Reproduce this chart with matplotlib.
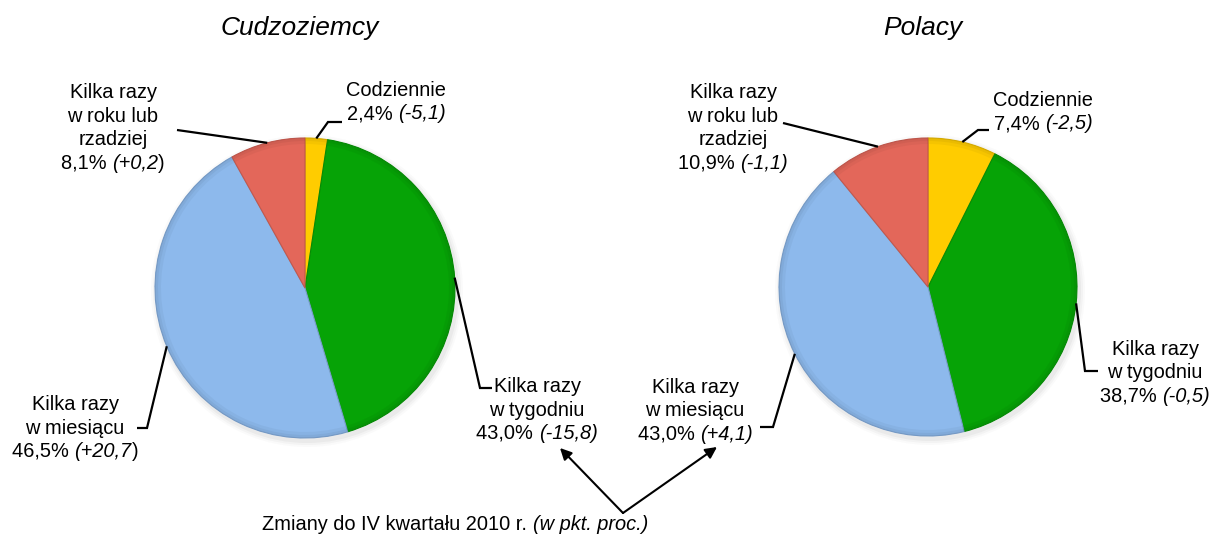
import numpy as np
import matplotlib
matplotlib.use('Agg')
import matplotlib.pyplot as plt
from matplotlib.offsetbox import TextArea, VPacker, HPacker, AnnotationBbox
from matplotlib.colors import to_rgb

plt.rcParams['font.family'] = ['Liberation Sans', 'DejaVu Sans']

# --- dane ---
categories = ['Codziennie', 'Kilka razy\nw tygodniu', 'Kilka razy\nw miesiącu',
              'Kilka razy\nw roku lub\nrzadziej']
cudz_share = [2.4, 43.0, 46.5, 8.1]
cudz_change = [-5.1, -15.8, 20.7, 0.2]
pol_share = [7.4, 38.7, 43.0, 10.9]
pol_change = [-2.5, -0.5, 4.1, -1.1]
titles = ['Cudzoziemcy', 'Polacy']
footnote = 'Zmiany do IV kwartału 2010 r. '
footnote_it = '(w pkt. proc.)'
colors = ['#FFCC00', '#06A306', '#8DB9EC', '#E3675A']

W, H = 1213, 534
FS = 14.4


def py(y):
    # piksele od góry -> współrzędne osi
    return H - y


def shade(c, f):
    r, g, b = to_rgb(c)
    return (r * f, g * f, b * f)


def label_box(text, share, change, upright_close=False):
    tp = dict(fontsize=FS, color='black')
    lines = [TextArea(t, textprops=tp) for t in text.split('\n')]
    num = f'{share:.1f}'.replace('.', ',') + '% '
    chg = f'{change:+.1f}'.replace('.', ',')
    parts = [TextArea(num, textprops=tp)]
    if upright_close:
        parts += [TextArea('(' + chg, textprops=dict(tp, style='italic')),
                  TextArea(')', textprops=tp)]
    else:
        parts += [TextArea('(' + chg + ')', textprops=dict(tp, style='italic'))]
    lines.append(HPacker(children=parts, align='baseline', pad=0, sep=0))
    return VPacker(children=lines, align='center', pad=0, sep=3.2)


fig = plt.figure(figsize=(W / 100, H / 100), dpi=100)
ax = fig.add_axes([0, 0, 1, 1])

pies = [
    dict(share=cudz_share, change=cudz_change, center=(305, 288), r=150,
         title_xy=(300, 28),
         labels=[(396, 102), (537, 410), (75, 428), (113, 128)],
         leaders=[[(328, 122), (342, 122)], [(480, 388), (492, 388)],
                  [(147, 428), (137, 428)], [(177, 130)]],
         upright=[False, False, True, True]),
    dict(share=pol_share, change=pol_change, center=(928, 287), r=149,
         title_xy=(923, 28),
         labels=[(1043, 112), (1155, 373), (695, 411), (733, 128)],
         leaders=[[(978, 130), (989, 130)], [(1085, 371), (1098, 371)],
                  [(773, 427), (760, 427)], [(783, 123)]],
         upright=[False, False, False, False]),
]

for p, title in zip(pies, titles):
    cx, cy = p['center'][0], py(p['center'][1])
    r = p['r']
    # miękki cień
    for k, a in zip([6, 4, 2], [0.03, 0.05, 0.07]):
        ax.add_patch(plt.Circle((cx + 2, cy - 3), r + k, color='#777777',
                                alpha=a, lw=0, zorder=0))
    wedges, _ = ax.pie(p['share'], colors=colors, startangle=90,
                       counterclock=False, center=(cx, cy), radius=r,
                       wedgeprops=dict(edgecolor='none'))
    for w, c in zip(wedges, colors):
        w.set_edgecolor(shade(c, 0.85))
        w.set_linewidth(0.8)
        w.set_zorder(2)
    # ciemniejsza obwódka (efekt wypukłości)
    for width, a in [(6, 0.15), (3, 0.2)]:
        rings, _ = ax.pie(p['share'], colors=[shade(c, 0.75) for c in colors],
                          startangle=90, counterclock=False, center=(cx, cy),
                          radius=r, wedgeprops=dict(width=width, edgecolor='none',
                                                    alpha=a))
        for w in rings:
            w.set_zorder(3)

    ax.text(p['title_xy'][0], py(p['title_xy'][1]), title, fontsize=19,
            style='italic', ha='center', va='center')

    for i, w in enumerate(wedges):
        mid = np.deg2rad((w.theta1 + w.theta2) / 2)
        ax_, ay_ = cx + r * np.cos(mid), cy + r * np.sin(mid)
        pts = [(ax_, ay_)] + [(x, py(y)) for x, y in p['leaders'][i]]
        xs, ys = zip(*pts)
        ax.plot(xs, ys, color='black', lw=1.6, solid_capstyle='butt',
                solid_joinstyle='miter', zorder=4)
        box = label_box(categories[i], p['share'][i], p['change'][i],
                        p['upright'][i])
        lx, ly = p['labels'][i]
        ax.add_artist(AnnotationBbox(box, (lx, py(ly)), frameon=False,
                                     box_alignment=(0.5, 0.5), pad=0))

# przypis i strzałki
tail = (623, py(513))
for head in [(560, 448), (717, 447)]:
    ax.annotate('', xy=(head[0], py(head[1])), xytext=tail,
                arrowprops=dict(arrowstyle='-|>', color='black', lw=1.5,
                                mutation_scale=17, shrinkA=0, shrinkB=0))
foot = HPacker(children=[TextArea(footnote, textprops=dict(fontsize=FS)),
                         TextArea(footnote_it, textprops=dict(fontsize=FS, style='italic'))],
               align='baseline', pad=0, sep=0)
ax.add_artist(AnnotationBbox(foot, (455, py(524)), frameon=False,
                             box_alignment=(0.5, 0.5), pad=0))

ax.set_xlim(0, W)
ax.set_ylim(0, H)
ax.set_aspect('equal')
ax.axis('off')
fig.savefig('out.png', dpi=100, facecolor='white')
